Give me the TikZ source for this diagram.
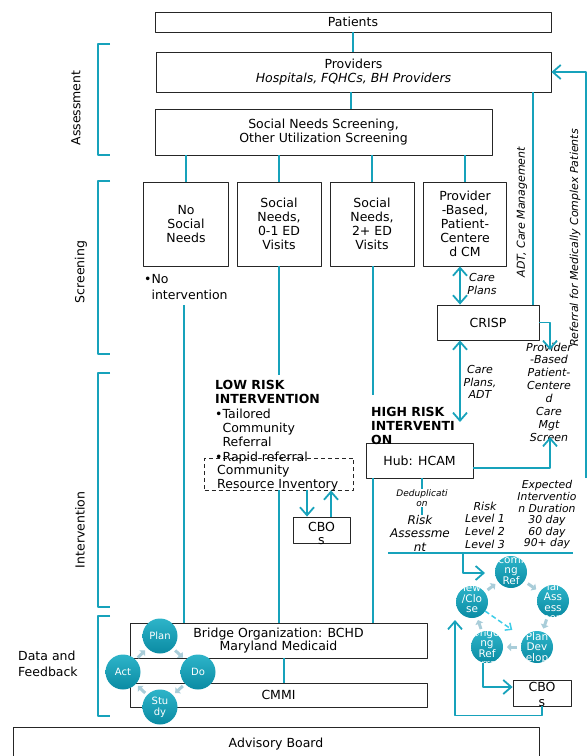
\documentclass[tikz,border=0pt]{standalone}
\usepackage{fontspec}
\setmainfont{DejaVu Sans}
\usetikzlibrary{arrows.meta,calc}
\definecolor{tealline}{HTML}{17A2BB}
\definecolor{chevgray}{HTML}{A9CDD9}
\definecolor{balltop}{HTML}{2DB4C9}
\definecolor{ballbot}{HTML}{0A8BA3}
\definecolor{dashcyan}{HTML}{3DCDE8}
\begin{document}
\begin{tikzpicture}[x=1pt,y=-1pt,line join=round,>={Straight Barb[length=8pt,width=14pt]},
	font=\fontsize{12.5}{14}\selectfont,
	box/.style={draw=black!85,line width=.8pt,fill=white,inner sep=0pt,align=center},
	link/.style={draw=tealline,line width=1.8pt},
	itl/.style={font=\fontsize{11}{12.6}\selectfont\itshape,align=center,inner sep=0pt},
	ball/.style={circle,minimum size=#1,inner sep=0pt,top color=balltop,bottom color=ballbot,text=white,font=\fontsize{10}{11}\selectfont,align=center},
	cyc/.style 2 args={circle,minimum size=32pt,inner sep=0pt,top color=balltop,bottom color=ballbot,
		path picture={\node[text=white,font=\fontsize{10.5}{10.5}\selectfont,align=center] at ([yshift=#1]path picture bounding box.center) {#2};}},
	chv/.style={draw=chevgray,line width=3pt,-{Triangle[length=4pt,width=8pt]}}]
	\useasboundingbox (0,0) rectangle (587,756);
	% brackets and phase labels
	\foreach \t/\b in {44/155,181/354,373/607,616/716}
		\draw[link] (110,\t) -| (98,\b) -- (110,\b);
	\path (76,108) node[rotate=90] (lblass) {Assessment}
		(81,272) node[rotate=90] (lblscr) {Screening}
		(80,530) node[rotate=90] (lblint) {Intervention}
		(18,664) node[anchor=west,align=left,inner sep=0pt,font=\fontsize{12.5}{16}\selectfont] (lbldata) {Data and\\Feedback};
	% main boxes
	\path (353,22) node[box,minimum width=396pt,minimum height=20pt] (pat) {Patients}
		(353.5,72) node[box,minimum width=395pt,minimum height=40pt] (prov) {Providers\\\textit{Hospitals, FQHCs, BH Providers}}
		(323.5,132) node[box,minimum width=337pt,minimum height=46pt] (scr) {Social Needs Screening,\\Other Utilization Screening}
		(186,224) node[box,minimum width=85pt,minimum height=84pt] (nosn) {No\\Social\\Needs}
		(279,224) node[box,minimum width=84pt,minimum height=84pt] (sn01) {Social\\Needs,\\0-1 ED\\Visits}
		(372,224) node[box,minimum width=84pt,minimum height=84pt] (sn2) {Social\\Needs,\\2+ ED\\Visits}
		(465,224) node[box,minimum width=83pt,minimum height=84pt] (pbcm) {Provider\\-Based,\\Patient-\\Centere\\d CM}
		(488,322.5) node[box,minimum width=102pt,minimum height=35pt] (crisp) {CRISP}
		(419.5,460.5) node[box,minimum width=107pt,minimum height=35pt] (hub) {Hub: HCAM}
		(321.5,530) node[box,minimum width=57pt,minimum height=26pt] (cbol) {}
		(542,693) node[box,minimum width=58pt,minimum height=26pt] (cbor) {}
		(278.5,640.5) node[box,minimum width=297pt,minimum height=35pt,font=\fontsize{12.5}{13}\selectfont] (bridge) {Bridge Organization: BCHD\\Maryland Medicaid}
		(278.5,695) node[box,minimum width=297pt,minimum height=24pt] (cmmi) {CMMI}
		(276,744) node[box,minimum width=526pt,minimum height=34pt] (adv) {Advisory Board};
	\path (279,474) node[draw=black!85,line width=.8pt,dash pattern=on 4pt off 3pt,minimum width=149pt,minimum height=32pt] (cribox) {};
	% free texts
	\path (144,287) node[anchor=west,align=left,inner sep=0pt,font=\fontsize{12.5}{16}\selectfont] (noint) {•No\\\phantom{•}intervention}
		(215,422) node[anchor=west,align=left,inner sep=0pt,font=\fontsize{12.5}{14.4}\selectfont] (lowrisk) {\textbf{LOW RISK}\\\textbf{INTERVENTION}\\•Tailored\\\phantom{•}Community\\\phantom{•}Referral\\•Rapid referral}
		(217,478) node[anchor=west,align=left,inner sep=0pt] (critxt) {Community\\Resource Inventory}
		(371,426) node[anchor=west,align=left,inner sep=0pt,font=\fontsize{12.5}{14}\selectfont\bfseries] (highrisk) {HIGH RISK\\INTERVENTI\\ON}
		(321.5,533.5) node[align=center,inner sep=0pt,font=\fontsize{12.5}{13}\selectfont] (cboltxt) {CBO\\s}
		(542,694.5) node[align=center,inner sep=0pt,font=\fontsize{12.5}{15}\selectfont] (cbortxt) {CBO\\s}
		(482,284) node[itl] (cplan) {Care\\Plans}
		(480,382) node[itl] (cpadt) {Care\\Plans,\\ADT}
		(549,392) node[itl,font=\fontsize{11}{12.85}\selectfont\itshape] (pbtext) {Provider\\-Based\\Patient-\\Centere\\d\\Care\\Mgt\\Screen}
		(522,212) node[itl,rotate=90] (adtlbl) {ADT, Care Management}
		(575,238) node[itl,rotate=90] (reflbl) {Referral for Medically Complex Patients}
		(420,533) node[itl,font=\fontsize{12}{13.5}\selectfont\itshape] (riskass) {Risk\\Assessme\\nt}
		(485,525) node[itl] (risklev) {Risk\\Level 1\\Level 2\\Level 3}
		(547,515) node[itl,font=\fontsize{10.8}{11.6}\selectfont\itshape] (expdur) {Expected\\Interventio\\n Duration\\30 day\\60 day\\90+ day};
	% connectors
	\coordinate (nobot) at (184,305);
	\coordinate (lowtop) at (279,375);
	\coordinate (hightop) at (373,395);
	\coordinate (adtx) at (533,0);
	\coordinate (cpx) at (460,422);
	\coordinate (cdn) at (307,0);
	\coordinate (cup) at (331,0);
	\coordinate (pbin) at (550,350);
	\coordinate (pbout) at (550,437);
	\coordinate (refbot) at (586,478);
	\coordinate (dedupx) at (422,515);
	\coordinate (riskl) at (388,553);
	\coordinate (riskr) at (573,553);
	\coordinate (riskdrop) at (463,553);
	\coordinate (cycin) at (485,573);
	\coordinate (backin) at (455,620);
	\draw[link] (pat.south) -- (pat.south |- prov.north);
	\draw[link] (prov.south -| 351,0) -- (scr.north -| 351,0);
	\foreach \n in {nosn,sn01,sn2,pbcm}
		\draw[link] (\n.north) -- (\n.north |- scr.south);
	\draw[link] (nobot) -- (nobot |- bridge.north);
	\draw[link] (sn01.south) -- (lowtop);
	\draw[link] (cribox.south) -- (cribox.south |- bridge.north);
	\draw[link] (sn2.south -| hightop) -- (hightop);
	\draw[link] (hub.south -| hightop) -- (bridge.north -| hightop);
	\draw[link,->] (cribox.south -| cdn) -- (cbol.north -| cdn);
	\draw[link,->] (cbol.north -| cup) -- (cribox.south -| cup);
	\draw[link,<->] (pbcm.south -| cpx) -- (crisp.north -| cpx);
	\draw[link,<->] (crisp.south -| cpx) -- (cpx);
	\draw[link] (prov.south -| adtx) -- (crisp.north -| adtx);
	\draw[link,->] (crisp.east) -| (pbin);
	\draw[link,->] ([yshift=-7.5pt]hub.east) -| (pbout);
	\draw[link,->] (refbot) |- (prov.east);
	\draw[link] (hub.south -| dedupx) -- (dedupx);
	\path (422,498) node[font=\fontsize{9}{10}\selectfont\itshape,fill=white,inner sep=.5pt,align=center] (dedup) {Deduplicati\\on};
	\draw[link] (riskl) -- (riskr);
	\draw[link,->] (riskdrop) |- (cycin);
	\draw[link] (bridge.south -| 284,0) -- (cmmi.north -| 284,0);
	% intervention cycle
	\path (511,572) node[cyc={2pt}{In\\comi\\ng\\Ref\\erral}] (inref) {}
		(553,601) node[cyc={4pt}{Init\\ial\\Ass\\ess\\ment}] (initass) {}
		(537,647) node[cyc={-5pt}{Plan\\Dev\\elop\\ment}] (plandev) {}
		(487,647) node[cyc={-1pt}{Ongoi\\ng\\Ref\\erral}] (ongo) {}
		(472,602) node[cyc={9pt}{Rev\\iew\\/Clo\\se}] (review) {};
	\foreach \a/\b in {inref/initass,initass/plandev,plandev/ongo,ongo/review,review/inref}
		\draw[chv] ($(\a)!.4!(\b)$) -- ($(\a)!.6!(\b)$);
	\draw[draw=dashcyan,line width=1.5pt,dash pattern=on 5pt off 3pt,-{Straight Barb[length=5pt,width=9pt]}] ($(review)!.2!(plandev)$) -- ($(review)!.62!(plandev)$);
	\draw[link,->] ([xshift=-4pt]ongo.south) |- ([yshift=6pt]cbor.west);
	\draw[link,->] (cbor.south) -- ++(0,9) -| (backin);
	% PDSA circle
	\path (160,636) node[ball=35pt] (plan) {Plan}
		(198,672) node[ball=35pt] (do) {Do}
		(160,707) node[ball=35pt] (study) {Stu\\dy}
		(123,672) node[ball=35pt] (act) {Act};
	\foreach \a/\b in {plan/do,do/study,study/act,act/plan}
		\draw[chv] ($(\a)!.4!(\b)$) -- ($(\a)!.6!(\b)$);
\end{tikzpicture}
\end{document}
